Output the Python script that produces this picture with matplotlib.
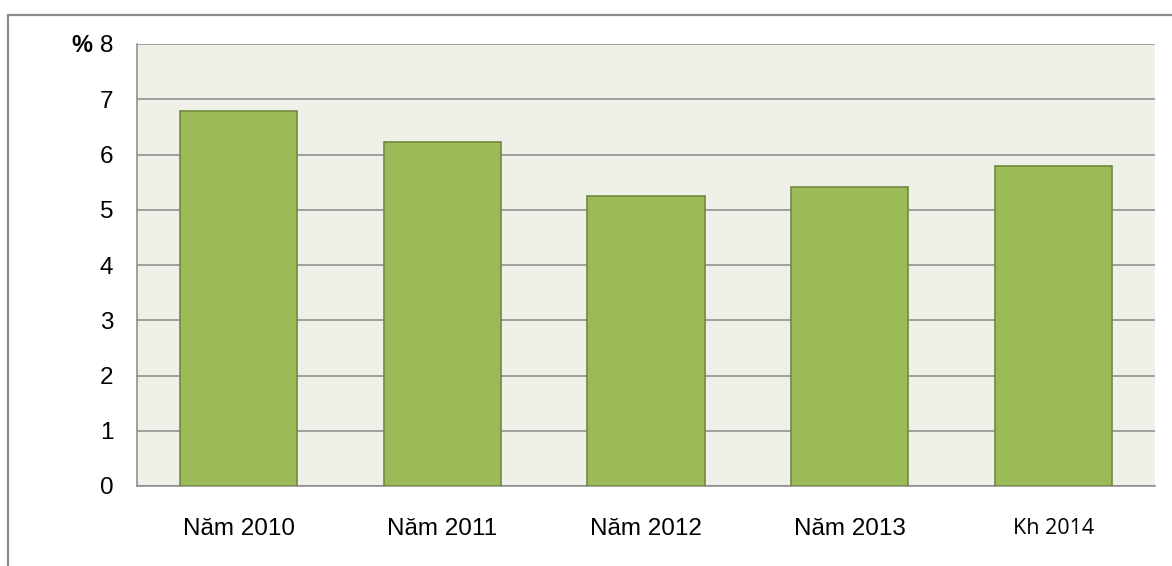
import matplotlib.pyplot as plt
from matplotlib.patches import Rectangle

# Data
categories = ['Năm 2010', 'Năm 2011', 'Năm 2012', 'Năm 2013', 'Kh 2014']
values = [6.78, 6.23, 5.25, 5.42, 5.79]
y_ticks = [0, 1, 2, 3, 4, 5, 6, 7, 8]

fig = plt.figure(figsize=(11.72, 5.66), dpi=100)
ax = fig.add_axes([137 / 1172, 1 - 486 / 566, 1018 / 1172, 442 / 566])

# outer chart border (partly clipped by the image edge)
fig.patches.append(Rectangle((8 / 1172, -0.1), 1.2, (566 - 15) / 566 + 0.1,
                             transform=fig.transFigure, fill=False,
                             edgecolor='#8c8c8c', linewidth=1.6))

ax.set_facecolor('#eff1e8')
x = range(len(categories))
ax.bar(x, values, width=0.575, color='#9bbb59', edgecolor='#71893f',
       linewidth=1.2, zorder=3)

ax.set_ylim(0, 8)
ax.set_xlim(-0.5, len(categories) - 0.5)
ax.set_yticks(y_ticks)
ax.yaxis.grid(True, color='#898989', linewidth=1.1, zorder=0)
ax.set_axisbelow(True)

for s in ['top', 'right']:
    ax.spines[s].set_visible(False)
for s in ['left', 'bottom']:
    ax.spines[s].set_color('#898989')
    ax.spines[s].set_linewidth(1.1)

ax.tick_params(axis='both', length=0)
ax.tick_params(axis='y', pad=17)
ax.tick_params(axis='x', pad=23)
ax.set_yticklabels([str(t) for t in y_ticks], fontsize=17.5,
                   family='Liberation Sans')
ax.set_xticks(list(x))
labels = ax.set_xticklabels(categories, fontsize=17.5, family='Liberation Sans')
# last label uses a different (Calibri-like) font in the original
labels[-1].set_fontfamily('Open Sans')
labels[-1].set_fontsize(15.5)

fig.text(71 / 1172, 1 - 45 / 566, '%', fontsize=17, fontweight='bold',
         family='Liberation Sans', va='center', ha='left')

fig.savefig('out.png', dpi=100)
